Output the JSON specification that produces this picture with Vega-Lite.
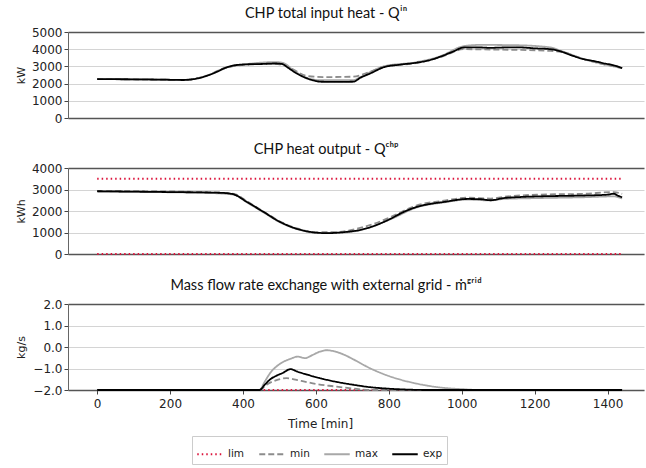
{
  "$schema": "https://vega.github.io/schema/vega-lite/v6.json",
  "padding": {"left": 14, "top": 5, "right": 2, "bottom": 4},
  "spacing": 17,
  "config": {
    "font": "DejaVu Sans",
    "view": {"stroke": null},
    "title": {"font": "Lato", "fontSize": 14.5, "fontWeight": "normal", "color": "#111", "offset": 5, "dx": -30},
    "axis": {"labelFontSize": 12, "titleFontSize": 11, "titleFontWeight": "normal", "labelColor": "#222", "titleColor": "#222", "tickColor": "#444", "tickSize": 4, "domainColor": "#666", "gridColor": "#d4d4d4"}
  },
  "datasets": {
    "p1": [
      {"s": "max", "t": 0, "v": 2270}, {"s": "max", "t": 237, "v": 2220}, {"s": "max", "t": 300, "v": 2450}, {"s": "max", "t": 350, "v": 2900}, {"s": "max", "t": 410, "v": 3130}, {"s": "max", "t": 489, "v": 3250}, {"s": "max", "t": 510, "v": 3200}, {"s": "max", "t": 540, "v": 2750}, {"s": "max", "t": 576, "v": 2330}, {"s": "max", "t": 612, "v": 2200}, {"s": "max", "t": 703, "v": 2200}, {"s": "max", "t": 722, "v": 2380}, {"s": "max", "t": 786, "v": 3000}, {"s": "max", "t": 877, "v": 3250}, {"s": "max", "t": 942, "v": 3600}, {"s": "max", "t": 1006, "v": 4180}, {"s": "max", "t": 1050, "v": 4250}, {"s": "max", "t": 1153, "v": 4230}, {"s": "max", "t": 1244, "v": 4100}, {"s": "max", "t": 1272, "v": 3900}, {"s": "max", "t": 1335, "v": 3430}, {"s": "max", "t": 1440, "v": 2900},
      {"s": "min", "t": 0, "v": 2270}, {"s": "min", "t": 237, "v": 2220}, {"s": "min", "t": 300, "v": 2460}, {"s": "min", "t": 350, "v": 2910}, {"s": "min", "t": 410, "v": 3100}, {"s": "min", "t": 489, "v": 3150}, {"s": "min", "t": 525, "v": 2950}, {"s": "min", "t": 576, "v": 2450}, {"s": "min", "t": 620, "v": 2380}, {"s": "min", "t": 700, "v": 2400}, {"s": "min", "t": 750, "v": 2700}, {"s": "min", "t": 786, "v": 2980}, {"s": "min", "t": 877, "v": 3200}, {"s": "min", "t": 942, "v": 3540}, {"s": "min", "t": 1006, "v": 4000}, {"s": "min", "t": 1079, "v": 3980}, {"s": "min", "t": 1153, "v": 3960}, {"s": "min", "t": 1244, "v": 3900}, {"s": "min", "t": 1272, "v": 3850}, {"s": "min", "t": 1335, "v": 3420}, {"s": "min", "t": 1440, "v": 2900},
      {"s": "exp", "t": 0, "v": 2260}, {"s": "exp", "t": 60, "v": 2255}, {"s": "exp", "t": 120, "v": 2245}, {"s": "exp", "t": 180, "v": 2230}, {"s": "exp", "t": 237, "v": 2210}, {"s": "exp", "t": 270, "v": 2280}, {"s": "exp", "t": 300, "v": 2450}, {"s": "exp", "t": 330, "v": 2700}, {"s": "exp", "t": 350, "v": 2900}, {"s": "exp", "t": 375, "v": 3060}, {"s": "exp", "t": 410, "v": 3120}, {"s": "exp", "t": 450, "v": 3140}, {"s": "exp", "t": 489, "v": 3170}, {"s": "exp", "t": 507, "v": 3140}, {"s": "exp", "t": 525, "v": 2900}, {"s": "exp", "t": 545, "v": 2620}, {"s": "exp", "t": 576, "v": 2300}, {"s": "exp", "t": 600, "v": 2150}, {"s": "exp", "t": 612, "v": 2110}, {"s": "exp", "t": 660, "v": 2100}, {"s": "exp", "t": 703, "v": 2110}, {"s": "exp", "t": 722, "v": 2340}, {"s": "exp", "t": 750, "v": 2600}, {"s": "exp", "t": 786, "v": 2950}, {"s": "exp", "t": 830, "v": 3100}, {"s": "exp", "t": 877, "v": 3220}, {"s": "exp", "t": 910, "v": 3350}, {"s": "exp", "t": 942, "v": 3570}, {"s": "exp", "t": 975, "v": 3850}, {"s": "exp", "t": 1006, "v": 4100}, {"s": "exp", "t": 1040, "v": 4110}, {"s": "exp", "t": 1079, "v": 4080}, {"s": "exp", "t": 1115, "v": 4100}, {"s": "exp", "t": 1153, "v": 4110}, {"s": "exp", "t": 1200, "v": 4050}, {"s": "exp", "t": 1244, "v": 4000}, {"s": "exp", "t": 1272, "v": 3870}, {"s": "exp", "t": 1300, "v": 3650}, {"s": "exp", "t": 1335, "v": 3420}, {"s": "exp", "t": 1365, "v": 3300}, {"s": "exp", "t": 1390, "v": 3180}, {"s": "exp", "t": 1420, "v": 3050}, {"s": "exp", "t": 1440, "v": 2900}
    ],
    "p2": [
      {"s": "lim", "g": "hi", "t": 0, "v": 3500}, {"s": "lim", "g": "hi", "t": 1440, "v": 3500},
      {"s": "lim", "g": "lo", "t": 0, "v": 0}, {"s": "lim", "g": "lo", "t": 1440, "v": 0},
      {"s": "max", "t": 0, "v": 2900}, {"s": "max", "t": 300, "v": 2840}, {"s": "max", "t": 375, "v": 2760}, {"s": "max", "t": 411, "v": 2400}, {"s": "max", "t": 457, "v": 1930}, {"s": "max", "t": 503, "v": 1460}, {"s": "max", "t": 548, "v": 1160}, {"s": "max", "t": 603, "v": 980}, {"s": "max", "t": 658, "v": 980}, {"s": "max", "t": 713, "v": 1080}, {"s": "max", "t": 805, "v": 1620}, {"s": "max", "t": 877, "v": 2170}, {"s": "max", "t": 951, "v": 2400}, {"s": "max", "t": 1016, "v": 2530}, {"s": "max", "t": 1079, "v": 2490}, {"s": "max", "t": 1115, "v": 2560}, {"s": "max", "t": 1207, "v": 2600}, {"s": "max", "t": 1335, "v": 2640}, {"s": "max", "t": 1417, "v": 2680}, {"s": "max", "t": 1440, "v": 2580},
      {"s": "min", "t": 0, "v": 2940}, {"s": "min", "t": 300, "v": 2880}, {"s": "min", "t": 375, "v": 2800}, {"s": "min", "t": 411, "v": 2450}, {"s": "min", "t": 457, "v": 1970}, {"s": "min", "t": 503, "v": 1500}, {"s": "min", "t": 548, "v": 1190}, {"s": "min", "t": 603, "v": 1010}, {"s": "min", "t": 658, "v": 1020}, {"s": "min", "t": 713, "v": 1180}, {"s": "min", "t": 750, "v": 1350}, {"s": "min", "t": 805, "v": 1720}, {"s": "min", "t": 877, "v": 2260}, {"s": "min", "t": 951, "v": 2480}, {"s": "min", "t": 1016, "v": 2620}, {"s": "min", "t": 1079, "v": 2580}, {"s": "min", "t": 1115, "v": 2660}, {"s": "min", "t": 1207, "v": 2760}, {"s": "min", "t": 1335, "v": 2800}, {"s": "min", "t": 1417, "v": 2880}, {"s": "min", "t": 1440, "v": 2800},
      {"s": "exp", "t": 0, "v": 2920}, {"s": "exp", "t": 100, "v": 2900}, {"s": "exp", "t": 200, "v": 2880}, {"s": "exp", "t": 300, "v": 2860}, {"s": "exp", "t": 347, "v": 2840}, {"s": "exp", "t": 375, "v": 2770}, {"s": "exp", "t": 411, "v": 2420}, {"s": "exp", "t": 457, "v": 1950}, {"s": "exp", "t": 503, "v": 1480}, {"s": "exp", "t": 548, "v": 1170}, {"s": "exp", "t": 603, "v": 990}, {"s": "exp", "t": 630, "v": 970}, {"s": "exp", "t": 658, "v": 990}, {"s": "exp", "t": 695, "v": 1050}, {"s": "exp", "t": 713, "v": 1090}, {"s": "exp", "t": 750, "v": 1250}, {"s": "exp", "t": 805, "v": 1640}, {"s": "exp", "t": 840, "v": 1950}, {"s": "exp", "t": 877, "v": 2190}, {"s": "exp", "t": 910, "v": 2320}, {"s": "exp", "t": 951, "v": 2420}, {"s": "exp", "t": 1016, "v": 2560}, {"s": "exp", "t": 1050, "v": 2550}, {"s": "exp", "t": 1079, "v": 2500}, {"s": "exp", "t": 1115, "v": 2600}, {"s": "exp", "t": 1160, "v": 2650}, {"s": "exp", "t": 1207, "v": 2680}, {"s": "exp", "t": 1270, "v": 2700}, {"s": "exp", "t": 1335, "v": 2720}, {"s": "exp", "t": 1400, "v": 2760}, {"s": "exp", "t": 1417, "v": 2800}, {"s": "exp", "t": 1430, "v": 2700}, {"s": "exp", "t": 1440, "v": 2650}
    ],
    "p3": [
      {"s": "lim", "t": 0, "v": -2}, {"s": "lim", "t": 1440, "v": -2},
      {"s": "max", "t": 0, "v": -2}, {"s": "max", "t": 445, "v": -2}, {"s": "max", "t": 460, "v": -1.6}, {"s": "max", "t": 475, "v": -1.2}, {"s": "max", "t": 500, "v": -0.8}, {"s": "max", "t": 530, "v": -0.55}, {"s": "max", "t": 550, "v": -0.45}, {"s": "max", "t": 570, "v": -0.52}, {"s": "max", "t": 590, "v": -0.38}, {"s": "max", "t": 610, "v": -0.22}, {"s": "max", "t": 630, "v": -0.15}, {"s": "max", "t": 650, "v": -0.2}, {"s": "max", "t": 680, "v": -0.38}, {"s": "max", "t": 700, "v": -0.55}, {"s": "max", "t": 750, "v": -1.0}, {"s": "max", "t": 800, "v": -1.35}, {"s": "max", "t": 850, "v": -1.6}, {"s": "max", "t": 900, "v": -1.78}, {"s": "max", "t": 950, "v": -1.9}, {"s": "max", "t": 1000, "v": -1.96}, {"s": "max", "t": 1050, "v": -2}, {"s": "max", "t": 1440, "v": -2},
      {"s": "min", "t": 0, "v": -2}, {"s": "min", "t": 445, "v": -2}, {"s": "min", "t": 465, "v": -1.75}, {"s": "min", "t": 490, "v": -1.55}, {"s": "min", "t": 520, "v": -1.45}, {"s": "min", "t": 560, "v": -1.58}, {"s": "min", "t": 600, "v": -1.72}, {"s": "min", "t": 650, "v": -1.83}, {"s": "min", "t": 700, "v": -1.93}, {"s": "min", "t": 750, "v": -2}, {"s": "min", "t": 1440, "v": -2},
      {"s": "exp", "t": 0, "v": -2}, {"s": "exp", "t": 445, "v": -2}, {"s": "exp", "t": 460, "v": -1.75}, {"s": "exp", "t": 475, "v": -1.5}, {"s": "exp", "t": 490, "v": -1.35}, {"s": "exp", "t": 510, "v": -1.2}, {"s": "exp", "t": 530, "v": -1.03}, {"s": "exp", "t": 550, "v": -1.15}, {"s": "exp", "t": 575, "v": -1.28}, {"s": "exp", "t": 600, "v": -1.4}, {"s": "exp", "t": 650, "v": -1.6}, {"s": "exp", "t": 700, "v": -1.75}, {"s": "exp", "t": 750, "v": -1.87}, {"s": "exp", "t": 800, "v": -1.94}, {"s": "exp", "t": 850, "v": -1.98}, {"s": "exp", "t": 900, "v": -2}, {"s": "exp", "t": 1440, "v": -2}
    ]
  },
  "vconcat": [
    {
      "width": 576, "height": 86,
      "title": {"text": "CHP total input heat - Qⁱⁿ"},
      "data": {"name": "p1"},
      "mark": {"type": "line", "interpolate": "monotone"},
      "encoding": {
        "x": {"field": "t", "type": "quantitative", "scale": {"domain": [-80, 1500], "nice": false, "zero": false}, "axis": {"labels": false, "ticks": false, "grid": false, "title": null, "domainColor": "#555", "domainWidth": 1.5}},
        "y": {"field": "v", "type": "quantitative", "scale": {"domain": [0, 5000], "nice": false}, "axis": {"values": [0, 1000, 2000, 3000, 4000, 5000], "format": "d", "title": "kW", "titleX": -47, "titleBaseline": "middle", "gridColor": {"condition": {"test": "datum.value == 5000", "value": "#555"}, "value": "#d4d4d4"}, "gridWidth": {"condition": {"test": "datum.value == 5000", "value": 1.5}, "value": 1}}},
        "color": {"field": "s", "type": "nominal", "scale": {"domain": ["lim", "min", "max", "exp"], "range": ["#dc143c", "#8c8c8c", "#a8a8a8", "#000000"]}, "legend": {"title": null, "orient": "none", "legendX": 124, "legendY": 404, "direction": "horizontal", "symbolType": "stroke", "symbolSize": 650, "symbolStrokeWidth": 1.8, "strokeColor": "#cccccc", "padding": 4, "columnPadding": 10, "labelFontSize": 10.5, "labelColor": "#222"}},
        "strokeDash": {"field": "s", "type": "nominal", "scale": {"domain": ["lim", "min", "max", "exp"], "range": [[1.5, 3], [6, 3], [1, 0], [1, 0]]}, "legend": {"title": null}},
        "strokeWidth": {"field": "s", "type": "nominal", "scale": {"domain": ["lim", "min", "max", "exp"], "range": [1.8, 1.8, 1.8, 2.6]}, "legend": {"title": null}}
      }
    },
    {
      "width": 576, "height": 86,
      "title": {"text": "CHP heat output - Qᶜʰᵖ"},
      "data": {"name": "p2"},
      "mark": {"type": "line", "interpolate": "monotone"},
      "encoding": {
        "x": {"field": "t", "type": "quantitative", "scale": {"domain": [-80, 1500], "nice": false, "zero": false}, "axis": {"labels": false, "ticks": false, "grid": false, "title": null, "domainColor": "#555", "domainWidth": 1.5}},
        "y": {"field": "v", "type": "quantitative", "scale": {"domain": [0, 4000], "nice": false}, "axis": {"values": [0, 1000, 2000, 3000, 4000], "format": "d", "title": "kWh", "titleX": -47, "titleBaseline": "middle", "gridColor": {"condition": {"test": "datum.value == 4000", "value": "#555"}, "value": "#d4d4d4"}, "gridWidth": {"condition": {"test": "datum.value == 4000", "value": 1.5}, "value": 1}}},
        "color": {"field": "s", "type": "nominal"},
        "strokeDash": {"field": "s", "type": "nominal"},
        "strokeWidth": {"field": "s", "type": "nominal"},
        "detail": {"field": "g", "type": "nominal"}
      }
    },
    {
      "width": 576, "height": 86,
      "title": {"text": "Mass flow rate exchange with external grid - ṁᵍʳⁱᵈ"},
      "data": {"name": "p3"},
      "mark": {"type": "line", "interpolate": "monotone"},
      "encoding": {
        "x": {"field": "t", "type": "quantitative", "scale": {"domain": [-80, 1500], "nice": false, "zero": false}, "axis": {"values": [0, 200, 400, 600, 800, 1000, 1200, 1400], "format": "d", "grid": false, "title": "Time [min]", "titleX": 252, "titleFontSize": 12, "domainColor": "#555", "domainWidth": 1.5, "labelPadding": 4, "titlePadding": 9}},
        "y": {"field": "v", "type": "quantitative", "scale": {"domain": [-2, 2], "nice": false}, "axis": {"values": [-2, -1, 0, 1, 2], "format": ".1f", "title": "kg/s", "titleX": -47, "titleBaseline": "middle", "gridColor": {"condition": {"test": "datum.value == 2", "value": "#555"}, "value": "#d4d4d4"}, "gridWidth": {"condition": {"test": "datum.value == 2", "value": 1.5}, "value": 1}}},
        "color": {"field": "s", "type": "nominal"},
        "strokeDash": {"field": "s", "type": "nominal"},
        "strokeWidth": {"field": "s", "type": "nominal"}
      }
    }
  ]
}
